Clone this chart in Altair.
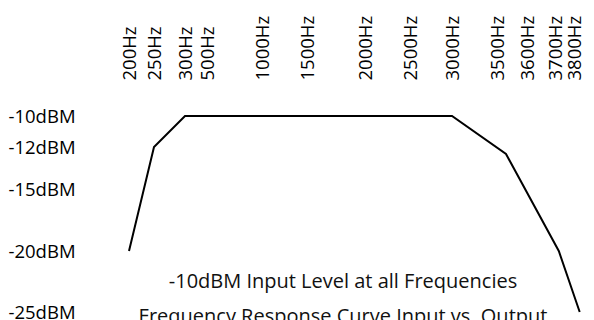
import altair as alt
import pandas as pd

# Tick labels (Hz) and their scale positions
freq_ticks = [200, 250, 300, 500, 1000, 1500, 2000, 2500, 3000, 3500, 3600, 3700, 3800]
freq_pos = [29, 54, 85, 107, 162, 207, 265, 310, 352, 397, 427, 455, 474]

db_ticks = [-25, -20, -15, -12, -10]
db_pos = [227, 166, 104, 62, 31]

# Response curve
curve_freq = [200, 250, 300, 3000, 3530, 3720, 3830]
curve_db = [-20, -12, -10, -10, -12.5, -20, -25]

df = pd.DataFrame({"freq": curve_freq, "db": curve_db})

FONT = "Open Sans"

chart = (
    alt.Chart(df)
    .mark_line(color="#000000", strokeWidth=2, clip=False)
    .encode(
        x=alt.X(
            "freq:Q",
            scale=alt.Scale(domain=freq_ticks, range=freq_pos, nice=False, zero=False),
            axis=alt.Axis(
                orient="top",
                values=freq_ticks,
                labelExpr="datum.value + 'Hz'",
                labelAngle=270,
                labelAlign="left",
                labelBaseline="middle",
                labelPadding=5,
                ticks=False,
                domain=False,
                grid=False,
                title=None,
                labelFont=FONT,
                labelFontSize=18.5,
                labelColor="#000000",
                labelOverlap=False,
                labelFlush=False,
            ),
        ),
        y=alt.Y(
            "db:Q",
            scale=alt.Scale(domain=db_ticks, range=db_pos, nice=False, zero=False),
            axis=alt.Axis(
                orient="left",
                values=db_ticks,
                labelExpr="datum.value + 'dBM'",
                labelAlign="left",
                labelBaseline="middle",
                labelPadding=92,
                ticks=False,
                domain=False,
                grid=False,
                title=None,
                labelFont=FONT,
                labelFontSize=18.5,
                labelColor="#000000",
                labelOverlap=False,
                labelFlush=False,
            ),
        ),
    )
    .properties(
        width=486,
        height=227,
        autosize=alt.AutoSizeParams(type="none"),
        padding={"left": 92, "top": 77, "right": 0, "bottom": 8},
        title=alt.TitleParams(
            text="-10dBM Input Level at all Frequencies",
            subtitle="Frequency Response Curve Input vs. Output",
            orient="bottom",
            anchor="middle",
            offset=-50,
            font=FONT,
            fontSize=20,
            fontWeight="normal",
            color="#111111",
            subtitleFont=FONT,
            subtitleFontSize=20,
            subtitleColor="#111111",
            subtitlePadding=15,
        ),
    )
    .configure_view(stroke=None)
)

chart.save("out.html", embed_options={"renderer": "svg", "actions": False})
